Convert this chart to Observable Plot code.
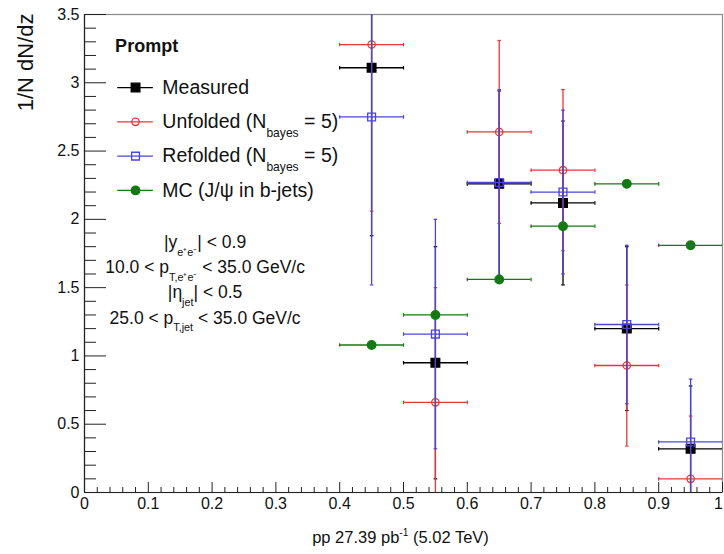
<!DOCTYPE html>
<html><head><meta charset="utf-8">
<script src="https://cdn.jsdelivr.net/npm/d3@7"></script>
<script src="https://cdn.jsdelivr.net/npm/@observablehq/plot@0.6"></script>
<style>
body{margin:0;background:#fff;}
#chart svg{font-family:"Liberation Sans",Arial,Helvetica,sans-serif;}
</style>
</head><body><div id="chart"></div>
<script>
// ---- data ----
const binLow  = [0.4, 0.5, 0.6, 0.7, 0.8, 0.9];
const binHigh = [0.5, 0.6, 0.7, 0.8, 0.9, 1.0];
const measured    = [3.11, 0.95, 2.26, 2.12, 1.20, 0.32];
const measuredErr = [1.23, 0.85, 0.68, 0.60, 0.60, 0.46];
const unfolded    = [3.28, 0.66, 2.64, 2.36, 0.93, 0.10];
const unfoldedErr = [1.22, 0.84, 0.67, 0.59, 0.59, 0.46];
const refolded    = [2.75, 1.16, 2.27, 2.20, 1.23, 0.37];
const refoldedErr = [1.23, 0.84, 0.68, 0.60, 0.58, 0.46];
const mc          = [1.08, 1.30, 1.56, 1.95, 2.26, 1.81];
const mcErr       = [0, 0, 0, 0, 0, 0];
const seriesNames = ["Measured", "Unfolded (N_{bayes} = 5)", "Refolded (N_{bayes} = 5)", "MC (J/ψ in b-jets)"];
const legendTitle = "Prompt";
const cuts = ["|y_{e⁺e⁻}| < 0.9", "10.0 < p_{T,e⁺e⁻} < 35.0 GeV/c", "|η_{jet}| < 0.5", "25.0 < p_{T,jet} < 35.0 GeV/c"];
const yTicks = [0, 0.5, 1, 1.5, 2, 2.5, 3, 3.5];
const xTicks = [0, 0.1, 0.2, 0.3, 0.4, 0.5, 0.6, 0.7, 0.8, 0.9, 1];
const yTitle = "1/N dN/dz";
const xTitle = "pp 27.39 pb^{-1} (5.02 TeV)";

// ---- layout ----
const W = 724, H = 554, mL = 84, mR = 2, mT = 14, mB = 62;
const plotW = W - mL - mR, plotH = H - mT - mB;
const yMinor = d3.range(0, 3.5001, 0.1).filter(v => Math.abs(v * 2 - Math.round(v * 2)) > 1e-6);
const xMinor = d3.range(0, 1.0001, 0.02).filter(v => Math.abs(v * 10 - Math.round(v * 10)) > 1e-6);

const hCap = {draw(ctx, size) { const r = Math.sqrt(size / Math.PI); ctx.moveTo(-r, 0); ctx.lineTo(r, 0); }};
const vCap = {draw(ctx, size) { const r = Math.sqrt(size / Math.PI); ctx.moveTo(0, -r); ctx.lineTo(0, r); }};

const series = [
  {values: measured, errs: measuredErr, color: "#000000", symbol: "square", fill: "#000000", r: 4.9},
  {values: unfolded, errs: unfoldedErr, color: "#e8363a", symbol: "circle", fill: "none", r: 3.7},
  {values: refolded, errs: refoldedErr, color: "#4a46dc", symbol: "square", fill: "none", r: 4.4},
  {values: mc, errs: mcErr, color: "#127a12", symbol: "circle", fill: "#127a12", r: 4.3}
];

const xMain = xTicks.slice(0, -1), xLast = xTicks.slice(-1);
const marks = [
  Plot.frame({stroke: "#8a8a8a", strokeWidth: 1.2}),
  Plot.ruleX([0], {stroke: "#222", strokeWidth: 1.2}),
  Plot.ruleY([0], {stroke: "#222", strokeWidth: 1.2}),
  Plot.tickY(yTicks, {y: d => d, insetRight: plotW - 22, stroke: "#222"}),
  Plot.tickY(yMinor, {y: d => d, insetRight: plotW - 12, stroke: "#222"}),
  Plot.tickX(xTicks, {x: d => d, insetTop: plotH - 10, stroke: "#222"}),
  Plot.tickX(xMinor, {x: d => d, insetTop: plotH - 5, stroke: "#222"}),
  Plot.axisY(yTicks, {tickSize: 0, tickPadding: 5, fontSize: 16, label: null, tickFormat: d => String(d), color: "#111"}),
  Plot.axisX(xMain, {tickSize: 0, tickPadding: 5, fontSize: 16, label: null, tickFormat: d => String(+d.toFixed(1)), color: "#111"}),
  Plot.axisX(xLast, {tickSize: 0, tickPadding: 5, fontSize: 16, label: null, dx: -4, tickFormat: d => String(+d.toFixed(1)), color: "#111"})
];

series.forEach((s) => {
  const rows = binLow.map((lo, i) => ({lo, hi: binHigh[i], x: (lo + binHigh[i]) / 2, y: s.values[i], e: s.errs[i]}));
  const vr = rows.filter(d => d.e > 0);
  marks.push(
    Plot.ruleY(rows, {y: "y", x1: "lo", x2: "hi", stroke: s.color, strokeWidth: 1.3, clip: true}),
    Plot.dot(rows, {x: "lo", y: "y", symbol: vCap, r: 1.8, stroke: s.color, strokeWidth: 1.2, clip: true}),
    Plot.dot(rows, {x: "hi", y: "y", symbol: vCap, r: 1.8, stroke: s.color, strokeWidth: 1.2, clip: true}),
    Plot.ruleX(vr, {x: "x", y1: d => d.y - d.e, y2: d => d.y + d.e, stroke: s.color, strokeWidth: 1.3, clip: true}),
    Plot.dot(vr, {x: "x", y: d => d.y - d.e, symbol: hCap, r: 1.8, stroke: s.color, strokeWidth: 1.2, clip: true}),
    Plot.dot(vr, {x: "x", y: d => d.y + d.e, symbol: hCap, r: 1.8, stroke: s.color, strokeWidth: 1.2, clip: true}),
    Plot.dot(rows, {x: "x", y: "y", symbol: s.symbol, r: s.r, fill: s.fill, stroke: s.color, strokeWidth: 1.3})
  );
});

// legend (positions in data units of the frame)
const lgX = 0.080, lgHalf = 0.028, lgTextX = 0.122, lgY0 = 2.965, lgStep = 0.251;
series.forEach((s, i) => {
  const row = [{y: lgY0 - i * lgStep, name: seriesNames[i]}];
  marks.push(
    Plot.ruleY(row, {y: "y", x1: lgX - lgHalf, x2: lgX + lgHalf, stroke: s.color, strokeWidth: 1.3}),
    Plot.dot(row, {x: lgX, y: "y", symbol: s.symbol, r: s.r, fill: s.fill, stroke: s.color, strokeWidth: 1.3}),
    Plot.text(row, {x: lgTextX, y: "y", text: "name", textAnchor: "start", fontSize: 19.5, fill: "#111", className: "rich"})
  );
});
marks.push(
  Plot.text([legendTitle], {x: 0.048, y: 3.265, text: d => d, textAnchor: "start", fontSize: 18, fontWeight: "bold", fill: "#111"}),
  Plot.text(cuts, {x: 0.189, y: (d, i) => 1.83 - i * 0.184, text: d => d, textAnchor: "middle", fontSize: 17.5, fill: "#111", className: "rich"}),
  Plot.text([yTitle], {frameAnchor: "top-left", text: d => d, rotate: -90, textAnchor: "end", lineAnchor: "bottom", dx: -52, dy: -1, fontSize: 22, fill: "#111"}),
  Plot.text([xTitle], {frameAnchor: "bottom", text: d => d, dx: -3, dy: 50, fontSize: 16.5, fill: "#111", className: "rich"})
);

const plot = Plot.plot({
  width: W, height: H,
  marginLeft: mL, marginRight: mR, marginTop: mT, marginBottom: mB,
  x: {domain: [0, 1]},
  y: {domain: [0, 3.5]},
  style: {background: "#fff", fontFamily: "Liberation Sans, Arial, Helvetica, sans-serif", overflow: "visible"},
  marks
});
document.getElementById("chart").appendChild(plot);

// rich text: _{sub} and ^{sup}
const NS = "http://www.w3.org/2000/svg";
d3.select(plot).selectAll("g.rich text").each(function() {
  const el = this;
  const raw = el.textContent;
  const fs = parseFloat(getComputedStyle(el).fontSize) || 16;
  const parts = [];
  const re = /([_^])\{([^}]*)\}/g;
  let last = 0, m;
  while ((m = re.exec(raw))) {
    if (m.index > last) parts.push({t: raw.slice(last, m.index), k: ""});
    parts.push({t: m[2], k: m[1]});
    last = re.lastIndex;
  }
  if (last < raw.length) parts.push({t: raw.slice(last), k: ""});
  while (el.firstChild) el.removeChild(el.firstChild);
  let cur = 0;
  parts.forEach(p => {
    const ts = document.createElementNS(NS, "tspan");
    const target = p.k === "_" ? 0.45 * fs : p.k === "^" ? -0.42 * fs : 0;
    if (target !== cur) ts.setAttribute("dy", (target - cur).toFixed(2));
    cur = target;
    if (p.k) ts.setAttribute("font-size", (0.62 * fs).toFixed(1));
    ts.textContent = p.t;
    el.appendChild(ts);
  });
});
</script>
</body></html>
